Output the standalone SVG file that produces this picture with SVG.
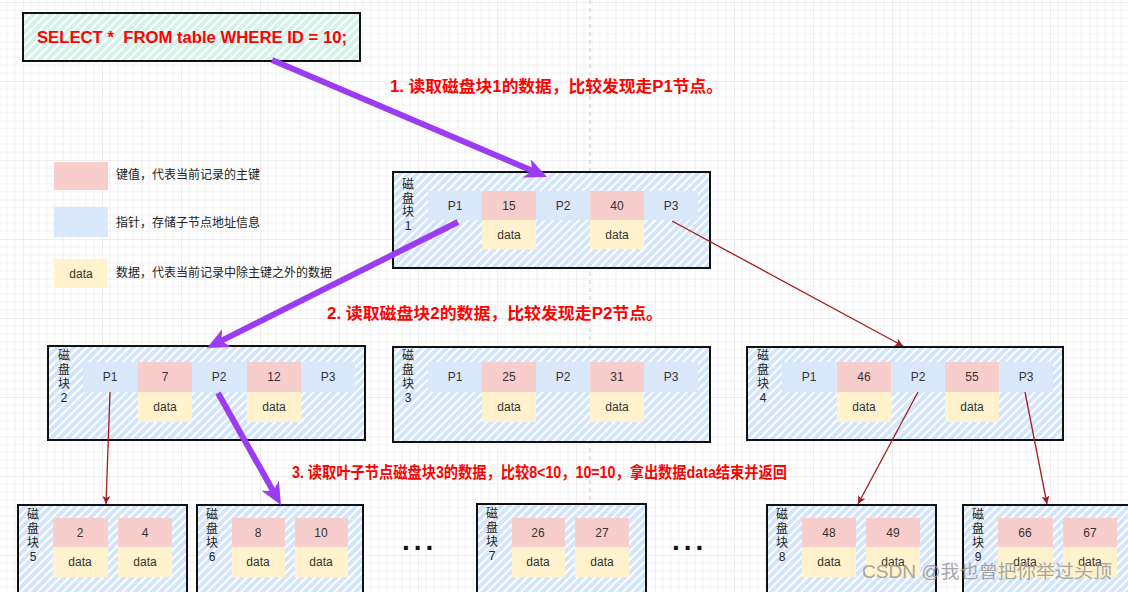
<svg xmlns="http://www.w3.org/2000/svg" width="1128" height="592" viewBox="0 0 1128 592">
<defs>
<pattern id="grid" width="39.5" height="39.5" patternUnits="userSpaceOnUse" x="23" y="2">
<path d="M7.9 0V39.5M15.8 0V39.5M23.7 0V39.5M31.6 0V39.5M0 7.9H39.5M0 15.8H39.5M0 23.7H39.5M0 31.6H39.5" stroke="#f1f1f1" stroke-width="1" fill="none"/>
<path d="M0 0V39.5M0 0H39.5" stroke="#dedede" stroke-width="1" fill="none"/>
</pattern>
<pattern id="hb" width="6" height="6" patternUnits="userSpaceOnUse" patternTransform="rotate(45)">
<rect width="6" height="6" fill="#d3e5fb"/>
<line x1="1" y1="0" x2="1" y2="6" stroke="#ffffff" stroke-width="2"/>
</pattern>
<pattern id="ht" width="6" height="6" patternUnits="userSpaceOnUse" patternTransform="rotate(45)">
<rect width="6" height="6" fill="#d3f2ea"/>
<line x1="1" y1="0" x2="1" y2="6" stroke="#ffffff" stroke-width="2"/>
</pattern>
<marker id="ap" markerUnits="userSpaceOnUse" markerWidth="24" markerHeight="22" refX="10" refY="10" orient="auto">
<path d="M0,0 L22,10 L0,20 L6,10 z" fill="#9b3cf3"/>
</marker>
<marker id="ar" markerUnits="userSpaceOnUse" markerWidth="10" markerHeight="10" refX="8" refY="4" orient="auto">
<path d="M0,0 L8,4 L0,8 L2,4 z" fill="#a41d1d"/>
</marker>
</defs>
<style>
.blk{fill:url(#hb);stroke:#111;stroke-width:2}
.ptr{fill:#dae8fc}
.key{fill:#f8cecc}
.dat{fill:#fff2cc}
.t{font-family:"Liberation Sans","Noto Sans CJK SC",sans-serif;font-size:12px;fill:#333;text-anchor:middle}
.vl{font-family:"Liberation Sans","Noto Sans CJK SC",sans-serif;font-size:12px;fill:#222;text-anchor:middle}
.lg{font-family:"Liberation Sans","Noto Sans CJK SC",sans-serif;font-size:12px;fill:#222}
.red{font-family:"Liberation Sans","Noto Sans CJK SC",sans-serif;font-size:16px;font-weight:bold;fill:#ff0000}
.pa{stroke:#9b3cf3;stroke-width:6;fill:none;marker-end:url(#ap)}
.ra{stroke:#a41d1d;stroke-width:1.3;fill:none;marker-end:url(#ar)}
.dots{font-family:"Liberation Sans",sans-serif;font-size:28px;font-weight:bold;fill:#111;letter-spacing:4px}
</style>
<rect width="1128" height="592" fill="#ffffff"/>
<rect width="1128" height="592" fill="url(#grid)"/>
<line x1="590" y1="0" x2="590" y2="592" stroke="#c8c8c8" stroke-width="1" stroke-dasharray="4 4"/>

<g id="sql">
<rect x="23" y="13" width="337" height="48" fill="url(#ht)" stroke="#111" stroke-width="2"/>
<text x="37" y="43" class="red" textLength="310" lengthAdjust="spacingAndGlyphs">SELECT *&#160; FROM table WHERE ID = 10;</text>
</g>

<g id="legend">
<rect x="54" y="162" width="54" height="28" class="key"/>
<text x="116" y="179" class="lg">键值，代表当前记录的主键</text>
<rect x="54" y="207" width="54" height="30" class="ptr"/>
<text x="116" y="227" class="lg">指针，存储子节点地址信息</text>
<rect x="54" y="259" width="54" height="29" class="dat"/>
<text x="81" y="278" class="t">data</text>
<text x="116" y="277" class="lg">数据，代表当前记录中除主键之外的数据</text>
</g>

<g id="block1">
<rect x="393" y="172" width="317" height="96" class="blk"/>
<text x="408" y="189" class="vl"><tspan x="408">磁</tspan><tspan x="408" dy="13.5">盘</tspan><tspan x="408" dy="13.5">块</tspan><tspan x="408" dy="13.5">1</tspan></text>
<rect x="428" y="191" width="270" height="29" class="ptr"/>
<rect x="482" y="191" width="54" height="29" class="key"/>
<rect x="590" y="191" width="54" height="29" class="key"/>
<rect x="482" y="220" width="54" height="29" class="dat"/>
<rect x="590" y="220" width="54" height="29" class="dat"/>
<text x="455" y="210" class="t">P1</text><text x="509" y="210" class="t">15</text><text x="563" y="210" class="t">P2</text><text x="617" y="210" class="t">40</text><text x="671" y="210" class="t">P3</text>
<text x="509" y="239" class="t">data</text><text x="617" y="239" class="t">data</text>
</g>

<g id="block2">
<rect x="48" y="346" width="317" height="94" class="blk"/>
<text x="64" y="360" class="vl"><tspan x="64">磁</tspan><tspan x="64" dy="14">盘</tspan><tspan x="64" dy="14">块</tspan><tspan x="64" dy="14">2</tspan></text>
<rect x="83" y="362" width="272" height="30" class="ptr"/>
<rect x="138" y="362" width="54" height="30" class="key"/>
<rect x="247" y="362" width="54" height="30" class="key"/>
<rect x="138" y="392" width="54" height="30" class="dat"/>
<rect x="247" y="392" width="54" height="30" class="dat"/>
<text x="110" y="381" class="t">P1</text><text x="165" y="381" class="t">7</text><text x="219" y="381" class="t">P2</text><text x="274" y="381" class="t">12</text><text x="328" y="381" class="t">P3</text>
<text x="165" y="411" class="t">data</text><text x="274" y="411" class="t">data</text>
</g>

<g id="block3">
<rect x="393" y="347" width="317" height="95" class="blk"/>
<text x="408" y="360" class="vl"><tspan x="408">磁</tspan><tspan x="408" dy="14">盘</tspan><tspan x="408" dy="14">块</tspan><tspan x="408" dy="14">3</tspan></text>
<rect x="428" y="362" width="270" height="30" class="ptr"/>
<rect x="482" y="362" width="54" height="30" class="key"/>
<rect x="590" y="362" width="54" height="30" class="key"/>
<rect x="482" y="392" width="54" height="30" class="dat"/>
<rect x="590" y="392" width="54" height="30" class="dat"/>
<text x="455" y="381" class="t">P1</text><text x="509" y="381" class="t">25</text><text x="563" y="381" class="t">P2</text><text x="617" y="381" class="t">31</text><text x="671" y="381" class="t">P3</text>
<text x="509" y="411" class="t">data</text><text x="617" y="411" class="t">data</text>
</g>

<g id="block4">
<rect x="747" y="347" width="316" height="93" class="blk"/>
<text x="763" y="360" class="vl"><tspan x="763">磁</tspan><tspan x="763" dy="14">盘</tspan><tspan x="763" dy="14">块</tspan><tspan x="763" dy="14">4</tspan></text>
<rect x="782" y="362" width="271" height="30" class="ptr"/>
<rect x="837" y="362" width="54" height="30" class="key"/>
<rect x="945" y="362" width="54" height="30" class="key"/>
<rect x="837" y="392" width="54" height="30" class="dat"/>
<rect x="945" y="392" width="54" height="30" class="dat"/>
<text x="809" y="381" class="t">P1</text><text x="864" y="381" class="t">46</text><text x="918" y="381" class="t">P2</text><text x="972" y="381" class="t">55</text><text x="1026" y="381" class="t">P3</text>
<text x="864" y="411" class="t">data</text><text x="972" y="411" class="t">data</text>
</g>

<g id="block5">
<rect x="18" y="505" width="169" height="100" class="blk"/>
<text x="33" y="519" class="vl"><tspan x="33">磁</tspan><tspan x="33" dy="14">盘</tspan><tspan x="33" dy="14">块</tspan><tspan x="33" dy="14">5</tspan></text>
<rect x="53" y="518" width="55" height="29" class="key"/><rect x="118" y="518" width="54" height="29" class="key"/>
<rect x="53" y="547" width="55" height="30" class="dat"/><rect x="118" y="547" width="54" height="30" class="dat"/>
<text x="80" y="537" class="t">2</text><text x="145" y="537" class="t">4</text>
<text x="80" y="566" class="t">data</text><text x="145" y="566" class="t">data</text>
</g>

<g id="block6">
<rect x="197" y="505" width="166" height="100" class="blk"/>
<text x="212" y="519" class="vl"><tspan x="212">磁</tspan><tspan x="212" dy="14">盘</tspan><tspan x="212" dy="14">块</tspan><tspan x="212" dy="14">6</tspan></text>
<rect x="232" y="518" width="53" height="29" class="key"/><rect x="295" y="518" width="53" height="29" class="key"/>
<rect x="232" y="547" width="53" height="30" class="dat"/><rect x="295" y="547" width="53" height="30" class="dat"/>
<text x="258" y="537" class="t">8</text><text x="321" y="537" class="t">10</text>
<text x="258" y="566" class="t">data</text><text x="321" y="566" class="t">data</text>
</g>

<g id="block7">
<rect x="477" y="504" width="169" height="100" class="blk"/>
<text x="492" y="518" class="vl"><tspan x="492">磁</tspan><tspan x="492" dy="14">盘</tspan><tspan x="492" dy="14">块</tspan><tspan x="492" dy="14">7</tspan></text>
<rect x="512" y="518" width="53" height="29" class="key"/><rect x="575" y="518" width="54" height="29" class="key"/>
<rect x="512" y="547" width="53" height="30" class="dat"/><rect x="575" y="547" width="54" height="30" class="dat"/>
<text x="538" y="537" class="t">26</text><text x="602" y="537" class="t">27</text>
<text x="538" y="566" class="t">data</text><text x="602" y="566" class="t">data</text>
</g>

<g id="block8">
<rect x="767" y="505" width="169" height="100" class="blk"/>
<text x="782" y="519" class="vl"><tspan x="782">磁</tspan><tspan x="782" dy="14">盘</tspan><tspan x="782" dy="14">块</tspan><tspan x="782" dy="14">8</tspan></text>
<rect x="802" y="518" width="54" height="29" class="key"/><rect x="866" y="518" width="54" height="29" class="key"/>
<rect x="802" y="547" width="54" height="30" class="dat"/><rect x="866" y="547" width="54" height="30" class="dat"/>
<text x="829" y="537" class="t">48</text><text x="893" y="537" class="t">49</text>
<text x="829" y="566" class="t">data</text><text x="893" y="566" class="t">data</text>
</g>

<g id="block9">
<rect x="963" y="505" width="170" height="100" class="blk"/>
<text x="978" y="519" class="vl"><tspan x="978">磁</tspan><tspan x="978" dy="14">盘</tspan><tspan x="978" dy="14">块</tspan><tspan x="978" dy="14">9</tspan></text>
<rect x="998" y="518" width="55" height="29" class="key"/><rect x="1063" y="518" width="54" height="29" class="key"/>
<rect x="998" y="547" width="55" height="30" class="dat"/><rect x="1063" y="547" width="54" height="30" class="dat"/>
<text x="1025" y="537" class="t">66</text><text x="1090" y="537" class="t">67</text>
<text x="1025" y="566" class="t">data</text><text x="1090" y="566" class="t">data</text>
</g>

<g id="ellipsis">
<text x="402" y="550" class="dots">...</text>
<text x="672" y="550" class="dots">...</text>
</g>

<g id="connectors">
<line x1="272" y1="60" x2="536" y2="172.3" class="pa"/>
<line x1="458" y1="222" x2="217.7" y2="342.6" class="pa"/>
<line x1="218" y1="393" x2="275.1" y2="494.5" class="pa"/>
<line x1="672" y1="221" x2="903" y2="346" class="ra"/>
<line x1="110" y1="392" x2="106" y2="504" class="ra"/>
<line x1="918" y1="392" x2="858" y2="504" class="ra"/>
<line x1="1025" y1="392" x2="1047" y2="504" class="ra"/>
</g>

<g id="labels">
<text x="390" y="92" class="red" textLength="333" lengthAdjust="spacingAndGlyphs">1. 读取磁盘块1的数据，比较发现走P1节点。</text>
<text x="327" y="319" class="red" textLength="336" lengthAdjust="spacingAndGlyphs">2. 读取磁盘块2的数据，比较发现走P2节点。</text>
<text x="292" y="478" class="red" textLength="495" lengthAdjust="spacingAndGlyphs">3. 读取叶子节点磁盘块3的数据，比较8&lt;10，10=10，拿出数据data结束并返回</text>
</g>

<text x="862" y="578" font-family="'Liberation Sans','Noto Sans CJK SC',sans-serif" font-size="18" fill="#9a9a9a" fill-opacity="0.9" textLength="250" lengthAdjust="spacingAndGlyphs">CSDN @我也曾把你举过头顶</text>
</svg>
